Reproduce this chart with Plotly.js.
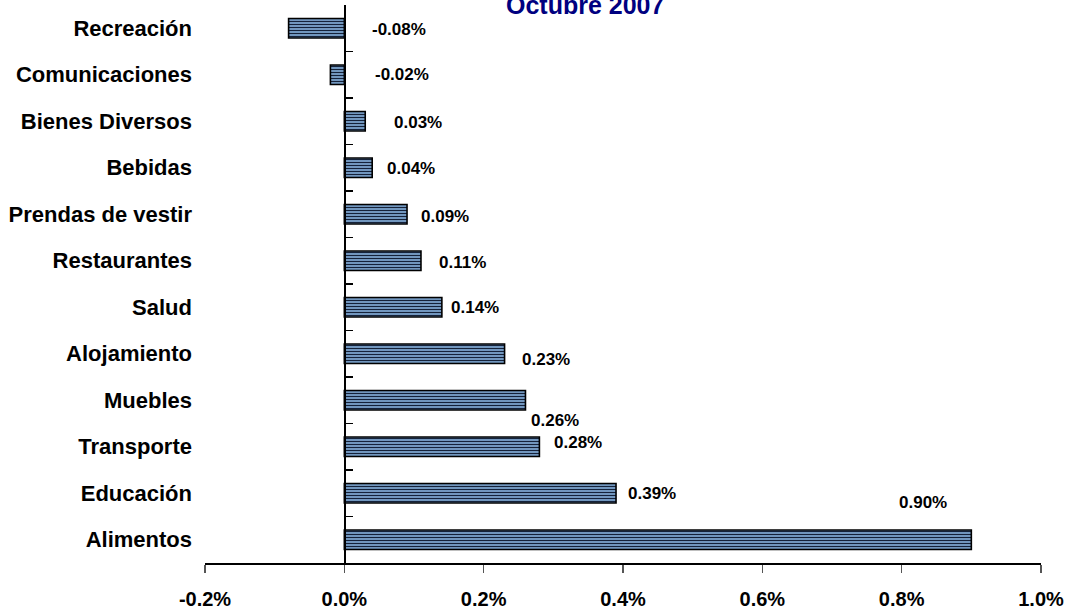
<!DOCTYPE html>
<html>
<head>
<meta charset="utf-8">
<script src="https://cdn.plot.ly/plotly-3.0.1.min.js"></script>
<style>html,body{margin:0;padding:0;background:#fff;}#chart{width:1070px;height:614px;}</style>
</head>
<body>
<div id="chart"></div>
<script>
// Data (top to bottom), values in percent
var categories = ["Recreación","Comunicaciones","Bienes Diversos","Bebidas","Prendas de vestir","Restaurantes","Salud","Alojamiento","Muebles","Transporte","Educación","Alimentos"];
var values = [-0.08,-0.02,0.03,0.04,0.09,0.11,0.14,0.23,0.26,0.28,0.39,0.90];
var valueLabels = ["-0.08%","-0.02%","0.03%","0.04%","0.09%","0.11%","0.14%","0.23%","0.26%","0.28%","0.39%","0.90%"];
var xTicks = [-0.2,0,0.2,0.4,0.6,0.8,1.0];
var xTickText = ["-0.2%","0.0%","0.2%","0.4%","0.6%","0.8%","1.0%"];
var titleText = "Octubre 2007";

// label placement offsets (pixels) — styling, not data
var labelDx = [110,72,53,39,38,42,33,41,30,39,36,-48];
var labelDy = [-1,0,-1,-1,-2,-2,0,-6,-20,4,0,37];

var FONT = "'Liberation Sans', Arial, sans-serif";

var n = categories.length;
var xmin = -0.2, xmax = 1.0;

var trace = {
  type: 'bar', orientation: 'h',
  x: values, y: categories,
  width: 0.42,
  marker: {
    color: '#8fbce9',
    line: {color: '#000', width: 1.6},
    pattern: {shape: '-', fgcolor: '#15223a', bgcolor: '#8fbce9', size: 3, solidity: 0.5}
  },
  hoverinfo: 'x+y', showlegend: false
};

var bTicks = [];
for (var i = 0; i <= n; i++) bTicks.push(i - 0.5);

var annotations = values.map(function(v, i){
  return {x: v, y: categories[i], xref: 'x', yref: 'y', text: valueLabels[i], showarrow: false,
    xanchor: 'center', yanchor: 'middle', xshift: labelDx[i], yshift: labelDy[i],
    font: {family: FONT, size: 17, color: '#000', weight: 'bold'}};
});
annotations.push({x: 0.4545, y: 1.0, xref: 'paper', yref: 'paper', text: '<b>' + titleText + '</b>',
  showarrow: false, xanchor: 'center', yanchor: 'middle',
  font: {family: FONT, size: 25, color: '#000080'}});

var layout = {
  width: 1070, height: 614,
  margin: {l: 205, r: 29, t: 5, b: 51},
  paper_bgcolor: '#fff', plot_bgcolor: '#fff',
  font: {family: FONT, color: '#000'},
  xaxis: {
    range: [xmin, xmax], tickvals: xTicks, ticktext: xTickText,
    showgrid: false, zeroline: false, showline: true, linecolor: '#000', linewidth: 1.5,
    ticks: 'outside', ticklen: 8, tickcolor: '#555', tickwidth: 1.5,
    tickfont: {family: FONT, size: 20, color: '#000', weight: 'bold'},
    ticklabelstandoff: 9
  },
  yaxis: {
    type: 'category', categoryorder: 'array', categoryarray: categories,
    range: [n - 0.5, -0.5],
    showgrid: false, zeroline: false, showline: false, ticks: '',
    tickfont: {family: FONT, size: 22, color: '#000', weight: 'bold'},
    ticklabelstandoff: 12
  },
  yaxis2: {
    overlaying: 'y', anchor: 'free', position: (0 - xmin) / (xmax - xmin), side: 'left',
    range: [n - 0.5, -0.5], tickvals: bTicks, showticklabels: false,
    showgrid: false, zeroline: false, showline: true, linecolor: '#000', linewidth: 1.5,
    ticks: 'inside', ticklen: 7, tickcolor: '#000', tickwidth: 1.2
  },
  bargap: 0.58,
  annotations: annotations
};

var dummy = {type: 'scatter', x: [null], y: [null], yaxis: 'y2', showlegend: false, hoverinfo: 'skip'};

Plotly.newPlot('chart', [trace, dummy], layout, {displayModeBar: false, staticPlot: true});
</script>
</body>
</html>
